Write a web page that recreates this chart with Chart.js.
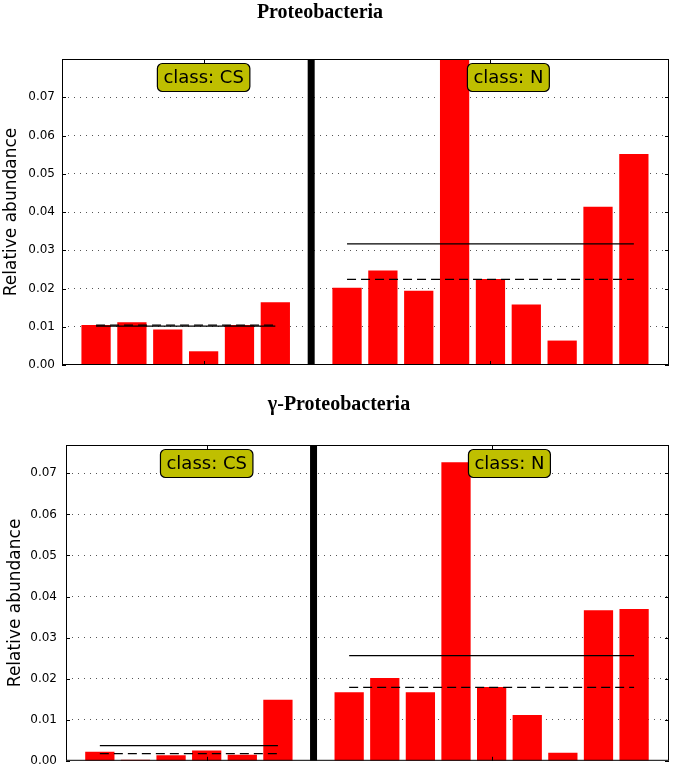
<!DOCTYPE html>
<html lang="en">
<head>
<meta charset="UTF-8">
<title>Proteobacteria relative abundance</title>
<script src="https://cdn.jsdelivr.net/npm/chart.js"></script>
<style>
  body { margin: 0; background: #fff; overflow: hidden; }
  .panel { position: absolute; left: 0; width: 675px; }
  #top { top: 0; height: 390px; }
  #bottom { top: 390px; height: 387px; }
</style>
</head>
<body>
<div class="panel" id="top"><canvas id="chartTop"></canvas></div>
<div class="panel" id="bottom"><canvas id="chartBottom"></canvas></div>
<script>
// values
const groupLabels = ["class: CS", "class: N"];
const protCS = [0.0104, 0.0111, 0.0092, 0.0035, 0.0104, 0.0163];
const protN = [0.0201, 0.0246, 0.0193, 0.0800, 0.0224, 0.0157, 0.0063, 0.0413, 0.0551];
const gammaCS = [0.0021, 0.0002, 0.0013, 0.0024, 0.0014, 0.0148];
const gammaN = [0.0166, 0.0201, 0.0166, 0.0726, 0.0179, 0.0111, 0.0019, 0.0366, 0.0369];
const yTicks = [0, 0.01, 0.02, 0.03, 0.04, 0.05, 0.06, 0.07];

Chart.defaults.font.family = "'DejaVu Sans', sans-serif";
Chart.defaults.color = "#000";

function mean(a) { return a.reduce((s, v) => s + v, 0) / a.length; }
function median(a) {
  const s = [...a].sort((p, q) => p - q);
  const m = Math.floor(s.length / 2);
  return s.length % 2 ? s[m] : (s[m - 1] + s[m]) / 2;
}

// frame, inward ticks, class boxes and the title
const decoPlugin = {
  id: "deco",
  afterDatasetsDraw(chart, args, opts) {
    const ctx = chart.ctx, a = chart.chartArea;
    const x = chart.scales.x, y = chart.scales.y;
    ctx.save();
    ctx.strokeStyle = "#000";
    ctx.lineWidth = 1;
    ctx.strokeRect(a.left + 0.5, a.top + 0.5, a.right - a.left - 1, a.bottom - a.top - 1);
    ctx.beginPath();
    yTicks.forEach(v => {
      const py = Math.round(y.getPixelForValue(v)) + 0.5;
      ctx.moveTo(a.left, py); ctx.lineTo(a.left + 4, py);
      ctx.moveTo(a.right - 4, py); ctx.lineTo(a.right, py);
    });
    opts.groups.forEach(g => {
      const px = Math.round(x.getPixelForValue(Math.ceil(g.center))) + 0.5;
      ctx.moveTo(px, a.top); ctx.lineTo(px, a.top + 4);
      ctx.moveTo(px, a.bottom); ctx.lineTo(px, a.bottom - 4);
    });
    ctx.stroke();

    ctx.font = "18px 'DejaVu Sans'";
    ctx.textAlign = "center";
    ctx.textBaseline = "middle";
    opts.groups.forEach((g, i) => {
      const cx = x.getPixelForValue(g.center + 0.5);
      const cy = a.top + 18.5;
      const w = ctx.measureText(groupLabels[i]).width + 12;
      ctx.beginPath();
      ctx.roundRect(cx - w / 2, cy - 14, w, 28, 5);
      ctx.fillStyle = "#bfbf00";
      ctx.fill();
      ctx.lineWidth = 1.2;
      ctx.strokeStyle = "#000";
      ctx.stroke();
      ctx.fillStyle = "#000";
      ctx.fillText(groupLabels[i], cx, cy + 1);
    });

    ctx.font = "bold 20px 'Liberation Serif'";
    ctx.textBaseline = "alphabetic";
    ctx.fillText(opts.title, opts.titleX, opts.titleY);
    ctx.restore();
  }
};

function makeChart(id, title, cs, n, yMax, lay) {
  const csX = cs.map((v, i) => i);
  const nX = n.map((v, i) => cs.length + 1 + i);
  const sepX = cs.length;
  const flat = (xs, val) => [{ x: xs[0], y: val }, { x: xs[xs.length - 1], y: val }];
  const line = (xs, val, dash) => ({
    type: "line", data: flat(xs, val), borderColor: "#000", borderWidth: 1.3,
    borderDash: dash, pointRadius: 0, order: 0
  });
  const bars = (xs, vals) => ({
    type: "bar", data: vals.map((v, i) => ({ x: xs[i], y: v })),
    backgroundColor: "#ff0000", barThickness: 28.6, grouped: false, order: 2
  });

  return new Chart(document.getElementById(id), {
    type: "bar",
    data: {
      datasets: [
        line(csX, mean(cs), []),
        line(csX, median(cs), [9, 5]),
        line(nX, mean(n), []),
        line(nX, median(n), [9, 5]),
        {
          type: "line", data: [{ x: sepX, y: 0 }, { x: sepX, y: yMax }],
          borderColor: "#000", borderWidth: 7, pointRadius: 0, order: 1
        },
        bars(csX, cs),
        bars(nX, n)
      ]
    },
    options: {
      responsive: true,
      maintainAspectRatio: false,
      animation: false,
      layout: { padding: lay.padding },
      plugins: {
        legend: { display: false },
        tooltip: { enabled: false },
        deco: {
          title: title, titleX: lay.titleX, titleY: lay.titleY,
          groups: [
            { center: (csX[0] + csX[csX.length - 1]) / 2 },
            { center: (nX[0] + nX[nX.length - 1]) / 2 }
          ]
        }
      },
      scales: {
        x: { type: "linear", display: false, offset: false, min: -0.95, max: 15.98 },
        y: {
          min: 0, max: yMax,
          afterFit: s => { s.width = lay.yWidth; },
          afterBuildTicks: s => { s.ticks = yTicks.map(v => ({ value: v })); },
          ticks: {
            padding: lay.tickPad,
            font: { size: 12 },
            callback: v => v.toFixed(2)
          },
          grid: {
            drawTicks: false,
            color: c => (c.tick && c.tick.value > 0) ? "#555" : "rgba(0,0,0,0)",
            lineWidth: 1
          },
          border: { display: false, dash: [1, 5] },
          title: {
            display: true, text: "Relative abundance",
            font: { size: 17 }, padding: { top: lay.titlePad, bottom: 0 }
          }
        }
      }
    },
    plugins: [decoPlugin]
  });
}

makeChart("chartTop", "Proteobacteria", protCS, protN, 0.08, {
  padding: { top: 59, right: 6, bottom: 25, left: 0 },
  yWidth: 62, tickPad: 7, titlePad: 1, titleX: 320, titleY: 18
});
makeChart("chartBottom", "\u03b3-Proteobacteria", gammaCS, gammaN, 0.0769, {
  padding: { top: 55, right: 6, bottom: 7, left: 0 },
  yWidth: 66, tickPad: 9, titlePad: 5, titleX: 339, titleY: 20
});
</script>
</body>
</html>
